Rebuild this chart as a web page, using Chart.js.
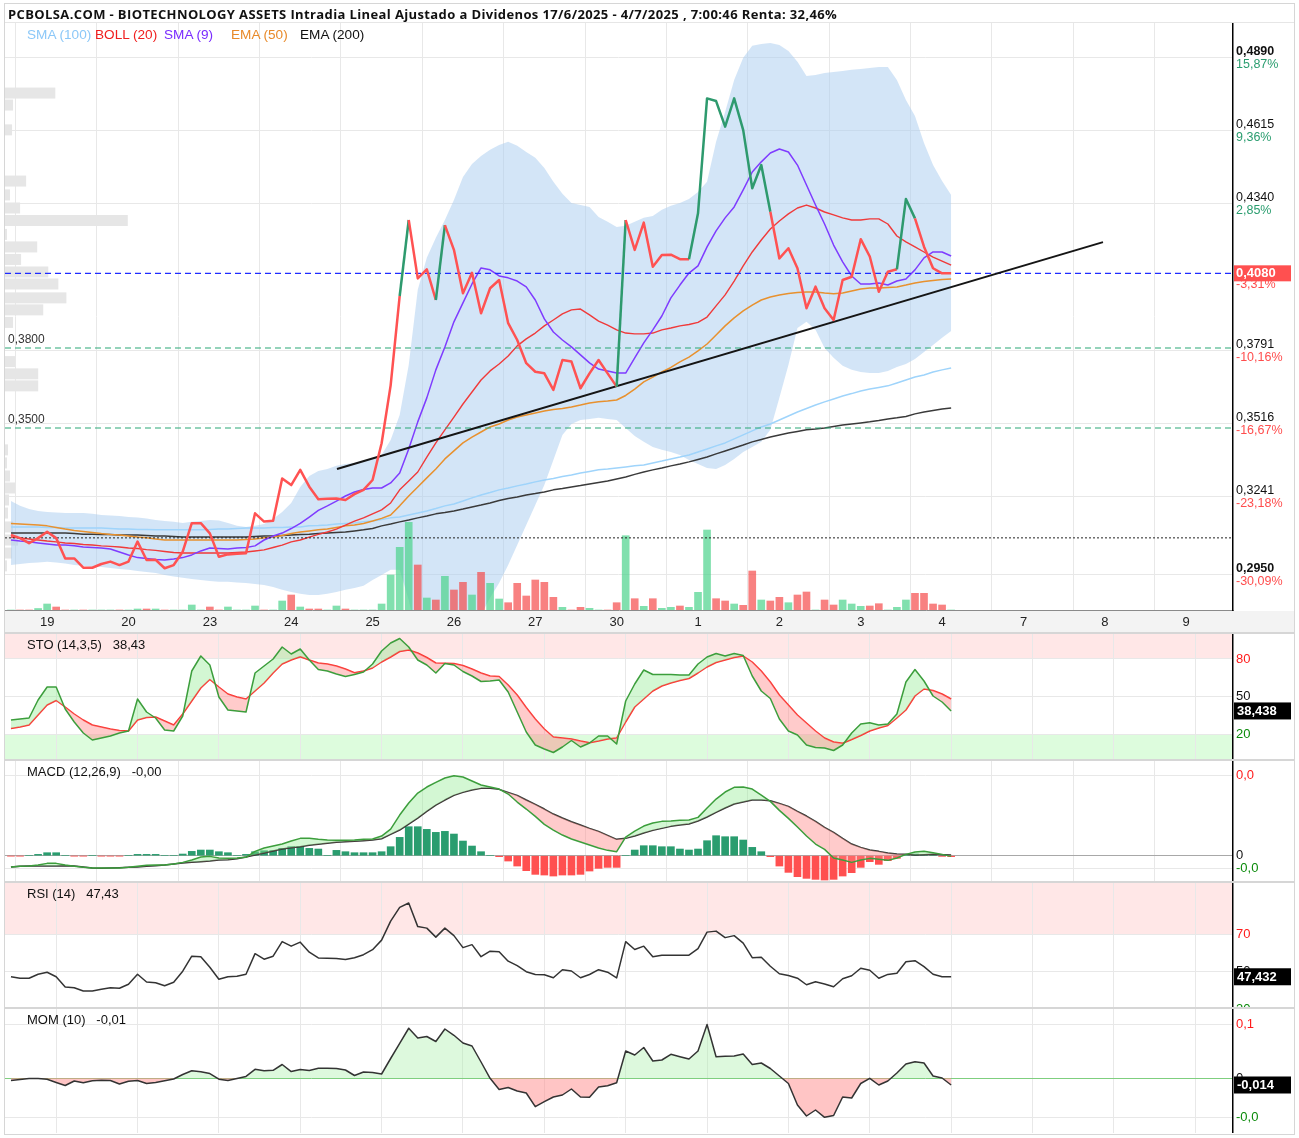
<!DOCTYPE html>
<html>
<head>
<meta charset="utf-8">
<script src="https://cdn.jsdelivr.net/npm/chart.js@4.4.1/dist/chart.umd.min.js"></script>
<style>
  html, body { margin: 0; padding: 0; background: #fff; }
  #wrap { position: relative; width: 1299px; height: 1138px; overflow: hidden; }
  canvas { position: absolute; left: 0; }
  .title { position: absolute; left: 8px; top: 5px; font: bold 13px "Open Sans", "DejaVu Sans", sans-serif; letter-spacing: 0.38px; color: #111; white-space: nowrap; line-height: 18px; }
  .leg { position: absolute; top: 26px; font: 13.6px "Liberation Sans", Arial, sans-serif; white-space: nowrap; line-height: 17px; }
  .sep { position: absolute; left: 4px; width: 1291px; height: 2px; background: #d6d6d6; }
  .frame { position: absolute; left: 4px; top: 3px; width: 1291px; height: 1132px; border: 1px solid #d6d6d6; box-sizing: border-box; pointer-events: none; }
  .tline { position: absolute; left: 4px; top: 22px; width: 1291px; height: 1px; background: #e6e6e6; }
</style>
</head>
<body>
<div id="wrap">
  <canvas id="cMain" width="1299" height="632" style="top:0px"></canvas>
  <canvas id="cSto"  width="1299" height="125" style="top:634px"></canvas>
  <canvas id="cMacd" width="1299" height="120" style="top:761px"></canvas>
  <canvas id="cRsi"  width="1299" height="124" style="top:883px"></canvas>
  <canvas id="cMom"  width="1299" height="124" style="top:1009px"></canvas>

  <div class="tline"></div>
  <div class="title">PCBOLSA.COM - BIOTECHNOLOGY ASSETS Intradia Lineal Ajustado a Dividenos 17/6/2025 - 4/7/2025 , 7:00:46 Renta: 32,46%</div>
  <div class="leg" style="left:27px;color:#8cc8f8">SMA (100)</div>
  <div class="leg" style="left:95px;color:#f01e1e">BOLL (20)</div>
  <div class="leg" style="left:164px;color:#7a2cff">SMA (9)</div>
  <div class="leg" style="left:231px;color:#e88a2a">EMA (50)</div>
  <div class="leg" style="left:300px;color:#111">EMA (200)</div>

  <div class="sep" style="top:632px"></div>
  <div class="sep" style="top:759px"></div>
  <div class="sep" style="top:881px"></div>
  <div class="sep" style="top:1007px"></div>
  <div class="frame"></div>
</div>

<script>
// ---------- sessions on the time axis ----------
const dayLabels = ['19', '20', '23', '24', '25', '26', '27', '30', '1', '2', '3', '4', '7', '8', '9'];
const barsPerSession = 9;
const firstSessionBar = 5;
const sessionStart = dayLabels.map((_, k) => firstSessionBar + k * barsPerSession);

// ---------- price and overlays ----------
const price = [0.3099,0.3087,0.3068,0.3087,0.3111,0.3087,0.3011,0.3011,0.2976,0.2976,
  0.2990,0.2999,0.2986,0.2999,0.3074,0.3005,0.3006,0.2974,0.2986,0.3036,
  0.3143,0.3143,0.3105,0.3017,0.3026,0.3028,0.3030,0.3180,0.3149,0.3152,
  0.3311,0.3286,0.3343,0.3280,0.3233,0.3235,0.3236,0.3230,0.3252,0.3268,
  0.3305,0.3443,0.3660,0.3995,0.4280,0.4061,0.4095,0.3980,0.4261,0.4168,
  0.4005,0.4082,0.3930,0.4024,0.4055,0.3893,0.3830,0.3743,0.3711,0.3705,
  0.3643,0.3755,0.3749,0.3649,0.3705,0.3755,0.3705,0.3655,0.4280,0.4168,
  0.4270,0.4105,0.4149,0.4150,0.4133,0.4133,0.4305,0.4736,0.4726,0.4630,
  0.4736,0.4617,0.4399,0.4486,0.4311,0.4136,0.4174,0.4099,0.3949,0.4030,
  0.3949,0.3905,0.4055,0.4067,0.4208,0.4143,0.4011,0.4086,0.4095,0.4359,
  0.4286,0.4180,0.4099,0.4080,0.4080];

// bars where the trend signal is active (line drawn green)
const signalBars = [44, 48, 68, 76, 77, 78, 79, 80, 81, 82, 83, 84, 99, 100];

const sma100 = [0.3129,0.3129,0.3129,0.3129,0.3127,0.3127,0.3125,0.3125,0.3125,0.3125,
  0.3125,0.3123,0.3121,0.3121,0.3119,0.3119,0.3118,0.3118,0.3118,0.3118,
  0.3118,0.3118,0.3119,0.3121,0.3121,0.3123,0.3125,0.3125,0.3125,0.3127,
  0.3127,0.3129,0.3129,0.3133,0.3134,0.3136,0.3140,0.3142,0.3144,0.3148,
  0.3151,0.3157,0.3163,0.3166,0.3174,0.3181,0.3189,0.3198,0.3208,0.3215,
  0.3226,0.3238,0.3249,0.3258,0.3268,0.3275,0.3283,0.3290,0.3298,0.3305,
  0.3311,0.3318,0.3324,0.3331,0.3337,0.3343,0.3346,0.3350,0.3354,0.3358,
  0.3361,0.3369,0.3376,0.3384,0.3391,0.3399,0.3410,0.3421,0.3433,0.3444,
  0.3459,0.3474,0.3489,0.3504,0.3515,0.3530,0.3545,0.3560,0.3573,0.3586,
  0.3598,0.3609,0.3620,0.3629,0.3639,0.3646,0.3652,0.3658,0.3669,0.3680,
  0.3691,0.3699,0.3710,0.3718,0.3725];

const ema200 = [0.3106,0.3106,0.3106,0.3106,0.3106,0.3106,0.3106,0.3104,0.3102,0.3102,
  0.3101,0.3101,0.3099,0.3099,0.3099,0.3097,0.3095,0.3095,0.3093,0.3091,
  0.3091,0.3091,0.3091,0.3091,0.3091,0.3091,0.3091,0.3093,0.3095,0.3095,
  0.3097,0.3099,0.3101,0.3102,0.3104,0.3106,0.3108,0.3110,0.3114,0.3118,
  0.3123,0.3133,0.3140,0.3148,0.3155,0.3163,0.3170,0.3178,0.3183,0.3189,
  0.3196,0.3204,0.3211,0.3219,0.3228,0.3236,0.3241,0.3249,0.3254,0.3260,
  0.3268,0.3273,0.3279,0.3284,0.3290,0.3296,0.3301,0.3309,0.3316,0.3326,
  0.3335,0.3343,0.3350,0.3358,0.3365,0.3373,0.3382,0.3391,0.3403,0.3414,
  0.3425,0.3436,0.3448,0.3457,0.3466,0.3474,0.3481,0.3487,0.3493,0.3496,
  0.3500,0.3506,0.3511,0.3515,0.3519,0.3523,0.3528,0.3534,0.3538,0.3543,
  0.3553,0.3560,0.3566,0.3571,0.3575];

const ema50 = [0.3142,0.3140,0.3138,0.3136,0.3133,0.3127,0.3121,0.3116,0.3112,0.3108,
  0.3104,0.3101,0.3099,0.3095,0.3091,0.3088,0.3084,0.3080,0.3080,0.3080,
  0.3080,0.3080,0.3080,0.3080,0.3080,0.3080,0.3082,0.3084,0.3088,0.3091,
  0.3097,0.3104,0.3110,0.3114,0.3118,0.3121,0.3127,0.3133,0.3136,0.3142,
  0.3151,0.3161,0.3174,0.3208,0.3245,0.3279,0.3313,0.3346,0.3384,0.3414,
  0.3444,0.3466,0.3485,0.3504,0.3515,0.3530,0.3541,0.3549,0.3556,0.3564,
  0.3569,0.3573,0.3579,0.3586,0.3594,0.3598,0.3601,0.3605,0.3622,0.3646,
  0.3673,0.3691,0.3710,0.3727,0.3748,0.3766,0.3789,0.3815,0.3849,0.3883,
  0.3913,0.3939,0.3961,0.3980,0.3991,0.3999,0.4004,0.4008,0.4010,0.4010,
  0.4006,0.4003,0.4006,0.4014,0.4021,0.4025,0.4025,0.4027,0.4029,0.4036,
  0.4044,0.4049,0.4053,0.4057,0.4059];

const sma9 = [0.3080,0.3076,0.3073,0.3069,0.3065,0.3061,0.3061,0.3058,0.3054,0.3052,
  0.3050,0.3046,0.3035,0.3024,0.3014,0.3011,0.3007,0.3005,0.3009,0.3014,
  0.3024,0.3039,0.3050,0.3048,0.3046,0.3050,0.3052,0.3058,0.3080,0.3095,
  0.3106,0.3123,0.3142,0.3166,0.3191,0.3208,0.3226,0.3245,0.3260,0.3269,
  0.3275,0.3275,0.3294,0.3331,0.3421,0.3523,0.3613,0.3718,0.3804,0.3898,
  0.3969,0.4040,0.4100,0.4093,0.4070,0.4063,0.4051,0.4029,0.3980,0.3909,
  0.3860,0.3830,0.3804,0.3774,0.3744,0.3721,0.3714,0.3706,0.3706,0.3763,
  0.3819,0.3868,0.3920,0.3988,0.4036,0.4081,0.4108,0.4179,0.4239,0.4288,
  0.4329,0.4393,0.4460,0.4498,0.4531,0.4546,0.4535,0.4486,0.4411,0.4336,
  0.4265,0.4186,0.4123,0.4070,0.4040,0.4040,0.4044,0.4036,0.4051,0.4059,
  0.4093,0.4138,0.4160,0.4160,0.4145];

const bollMid = [0.3091,0.3088,0.3084,0.3080,0.3076,0.3073,0.3069,0.3067,0.3063,0.3061,
  0.3058,0.3056,0.3054,0.3050,0.3048,0.3044,0.3041,0.3037,0.3033,0.3031,
  0.3031,0.3031,0.3031,0.3031,0.3031,0.3033,0.3035,0.3039,0.3043,0.3052,
  0.3061,0.3073,0.3080,0.3091,0.3101,0.3110,0.3121,0.3136,0.3151,0.3163,
  0.3178,0.3193,0.3219,0.3268,0.3301,0.3335,0.3391,0.3444,0.3493,0.3541,
  0.3590,0.3635,0.3680,0.3714,0.3740,0.3770,0.3808,0.3834,0.3856,0.3883,
  0.3905,0.3928,0.3943,0.3946,0.3924,0.3901,0.3886,0.3868,0.3856,0.3853,
  0.3853,0.3856,0.3868,0.3875,0.3883,0.3888,0.3896,0.3916,0.3958,0.3999,
  0.4051,0.4108,0.4160,0.4205,0.4246,0.4276,0.4303,0.4325,0.4336,0.4325,
  0.4310,0.4299,0.4288,0.4280,0.4280,0.4284,0.4284,0.4265,0.4220,0.4198,
  0.4179,0.4160,0.4141,0.4126,0.4111];

const bollUp = [0.3226,0.3208,0.3196,0.3189,0.3185,0.3183,0.3181,0.3181,0.3181,0.3178,
  0.3174,0.3172,0.3170,0.3166,0.3164,0.3161,0.3155,0.3151,0.3148,0.3144,
  0.3148,0.3151,0.3155,0.3153,0.3144,0.3133,0.3129,0.3133,0.3140,0.3159,
  0.3185,0.3219,0.3279,0.3320,0.3339,0.3346,0.3358,0.3365,0.3369,0.3376,
  0.3384,0.3399,0.3455,0.3549,0.3736,0.4018,0.4138,0.4213,0.4280,0.4355,
  0.4441,0.4490,0.4520,0.4543,0.4561,0.4573,0.4558,0.4535,0.4513,0.4475,
  0.4423,0.4378,0.4344,0.4336,0.4329,0.4291,0.4273,0.4254,0.4258,0.4273,
  0.4288,0.4295,0.4318,0.4333,0.4344,0.4359,0.4385,0.4423,0.4573,0.4685,
  0.4805,0.4888,0.4933,0.4940,0.4944,0.4936,0.4914,0.4873,0.4820,0.4824,
  0.4831,0.4835,0.4839,0.4843,0.4846,0.4850,0.4854,0.4854,0.4805,0.4730,
  0.4670,0.4569,0.4486,0.4426,0.4374];

const bollLow = [0.2986,0.2990,0.2994,0.2996,0.2998,0.2996,0.2992,0.2986,0.2983,0.2979,
  0.2979,0.2975,0.2971,0.2968,0.2964,0.2960,0.2956,0.2949,0.2943,0.2938,
  0.2934,0.2930,0.2926,0.2923,0.2923,0.2921,0.2919,0.2915,0.2911,0.2904,
  0.2893,0.2885,0.2878,0.2874,0.2874,0.2878,0.2885,0.2893,0.2900,0.2908,
  0.2930,0.2949,0.2968,0.2968,0.2855,0.2705,0.2645,0.2630,0.2611,0.2630,
  0.2668,0.2724,0.2799,0.2863,0.2919,0.2986,0.3061,0.3136,0.3211,0.3286,
  0.3380,0.3474,0.3515,0.3530,0.3534,0.3538,0.3534,0.3530,0.3500,0.3470,
  0.3448,0.3429,0.3418,0.3410,0.3399,0.3380,0.3365,0.3350,0.3346,0.3361,
  0.3384,0.3410,0.3429,0.3448,0.3493,0.3613,0.3736,0.3875,0.3898,0.3868,
  0.3800,0.3763,0.3733,0.3718,0.3710,0.3706,0.3706,0.3714,0.3729,0.3740,
  0.3759,0.3785,0.3811,0.3838,0.3864];

// volume per bar (thousands of shares)
const volume = [0,0,0,15,60,30,0,0,0,0,
  0,0,0,0,10,10,10,0,0,0,
  50,0,30,0,30,0,0,40,0,0,
  90,150,30,10,10,0,40,10,0,0,
  0,60,350,627,877,450,120,100,337,200,
  277,150,377,267,110,73,267,140,300,277,
  127,27,0,27,17,0,0,73,743,113,
  37,113,17,27,40,27,177,800,113,90,
  60,47,390,100,90,127,73,150,180,0,
  100,50,100,60,37,40,63,0,27,100,
  167,167,60,50,0];

// volume at price (left profile)
const profilePrice = [0.4756,0.4711,0.4618,0.4426,0.4374,0.4325,0.4278,0.4226,0.4179,0.4132,
  0.4085,0.4040,0.3988,0.3943,0.3896,0.3749,0.3703,0.3658,0.3418,0.3369,
  0.3320,0.3275,0.3230,0.3181,0.3129,0.3080,0.3031,0.2983];
const profileVolume = [500,80,70,210,50,150,1220,20,320,160,
  430,530,610,380,80,100,330,330,30,20,
  50,100,40,30,80,130,70,20];
const profileStep = 0.0045;

// reference levels
const supportLevels = [0.3800, 0.3500];
const openRef = 0.3088;
const basePrice = 0.4220;
const trendStart = { bar: 36.06, value: 0.3346 };
const trendEnd = { bar: 120.8, value: 0.4197 };
const priceTicks = [0.48900, 0.461525, 0.43405, 0.37910, 0.351625, 0.32415, 0.29500];

// ---------- oscillators ----------
const stoK = [31.2,32.0,32.8,47.2,57.6,57.6,40.0,29.6,20.8,15.2,
  16.8,18.4,20.8,22.4,48.0,37.6,32.8,23.2,22.4,34.4,
  70.4,82.4,75.2,49.6,39.2,38.4,37.6,68.8,74.4,80.0,
  89.6,84.0,88.0,79.2,71.6,70.4,68.0,66.0,67.6,69.6,
  76.0,86.4,92.8,96.4,89.6,79.2,75.2,68.8,76.4,75.2,
  70.0,66.4,62.0,62.4,63.2,53.6,37.6,21.6,11.2,8.0,
  5.2,9.6,14.8,9.6,12.8,18.4,18.4,12.0,46.4,60.0,
  71.2,67.6,67.6,67.6,67.2,67.2,76.0,81.6,84.4,82.4,
  84.4,82.8,66.4,54.4,48.4,32.0,22.4,19.2,11.2,9.2,
  8.8,6.8,11.2,20.8,28.0,29.0,27.2,28.0,36.0,61.6,
  71.6,62.4,50.4,45.6,38.438];
const stoD = [24.4,25.6,27.2,35.2,43.2,46.8,41.6,36.0,31.2,27.2,
  25.6,24.0,22.8,22.4,31.2,33.2,33.6,30.4,27.2,36.0,
  46.4,56.8,63.6,57.6,52.0,49.6,48.0,54.4,60.8,68.8,
  76.0,79.2,81.8,79.2,76.8,76.0,74.4,72.0,69.0,70.4,
  72.8,77.6,81.6,86.0,87.2,84.8,81.2,76.8,76.6,76.4,
  74.8,72.0,68.8,66.4,66.0,59.2,51.2,41.2,32.0,24.0,
  17.6,16.8,16.0,14.4,13.0,14.4,16.0,16.8,29.6,41.6,
  48.0,54.4,58.4,60.8,62.8,64.4,68.8,73.6,77.2,79.2,
  81.2,82.4,77.6,70.4,61.6,51.2,43.2,35.2,28.8,22.4,
  16.8,13.6,12.6,15.6,18.8,22.4,24.8,26.8,32.8,39.2,
  50.4,56.0,54.8,52.0,48.0];

const macd = [-0.0034,-0.0032,-0.0031,-0.0028,-0.0023,-0.0023,-0.0028,-0.0032,-0.0035,-0.0037,
  -0.0037,-0.0037,-0.0037,-0.0035,-0.0032,-0.0029,-0.0028,-0.0028,-0.0025,-0.0020,
  -0.0013,-0.0004,-0.0002,-0.0007,-0.0008,-0.0007,-0.0005,0.0013,0.0023,0.0029,
  0.0035,0.0044,0.0052,0.0052,0.0049,0.0047,0.0046,0.0046,0.0047,0.0049,
  0.0050,0.0059,0.0080,0.0122,0.0158,0.0188,0.0206,0.0220,0.0233,0.0240,
  0.0236,0.0224,0.0212,0.0206,0.0200,0.0185,0.0161,0.0140,0.0118,0.0094,
  0.0077,0.0062,0.0050,0.0041,0.0032,0.0023,0.0016,0.0012,0.0056,0.0074,
  0.0089,0.0098,0.0103,0.0104,0.0106,0.0107,0.0115,0.0143,0.0170,0.0191,
  0.0205,0.0206,0.0200,0.0182,0.0163,0.0136,0.0112,0.0086,0.0059,0.0035,
  0.0019,-0.0007,-0.0013,-0.0020,-0.0013,-0.0008,-0.0011,-0.0014,-0.0007,0.0004,
  0.0011,0.0013,0.0009,0.0004,-0.0002];
const macdSignal = [-0.0034,-0.0032,-0.0031,-0.0031,-0.0031,-0.0031,-0.0030,-0.0031,-0.0034,-0.0037,
  -0.0038,-0.0037,-0.0036,-0.0035,-0.0034,-0.0032,-0.0030,-0.0028,-0.0025,-0.0022,
  -0.0020,-0.0018,-0.0016,-0.0013,-0.0012,-0.0009,-0.0004,0.0002,0.0008,0.0014,
  0.0020,0.0024,0.0027,0.0031,0.0034,0.0037,0.0040,0.0042,0.0043,0.0045,
  0.0047,0.0051,0.0064,0.0077,0.0095,0.0113,0.0133,0.0152,0.0167,0.0181,
  0.0190,0.0197,0.0202,0.0202,0.0199,0.0190,0.0181,0.0167,0.0154,0.0140,
  0.0125,0.0113,0.0102,0.0092,0.0082,0.0073,0.0061,0.0049,0.0052,0.0059,
  0.0068,0.0076,0.0082,0.0088,0.0092,0.0095,0.0104,0.0116,0.0130,0.0143,
  0.0155,0.0161,0.0167,0.0167,0.0165,0.0157,0.0148,0.0133,0.0119,0.0103,
  0.0085,0.0070,0.0052,0.0035,0.0025,0.0017,0.0013,0.0008,0.0005,0.0004,
  0.0002,0.0003,0.0004,0.0003,0.0002];
const macdHist = [-0.0001,-0.0001,0,0.0004,0.0009,0.0009,0,-0.0001,-0.0001,0,
  -0.0001,-0.0001,-0.0001,0,0.0004,0.0004,0.0004,0,0,0.0005,
  0.0013,0.0017,0.0017,0.0012,0.0009,0,0.0004,0.0012,0.0015,0.0015,
  0.0022,0.0027,0.0027,0.0022,0.0020,0,0.0016,0.0012,0.0009,0.0009,
  0.0009,0.0012,0.0027,0.0055,0.0087,0.0087,0.0079,0.0070,0.0073,0.0065,
  0.0044,0.0029,0.0012,0,-0.0003,-0.0016,-0.0031,-0.0045,-0.0056,-0.0058,
  -0.0061,-0.0058,-0.0058,-0.0056,-0.0046,-0.0038,-0.0035,-0.0035,0,0.0017,
  0.0030,0.0030,0.0027,0.0027,0.0020,0.0017,0.0020,0.0045,0.0060,0.0057,
  0.0057,0.0047,0.0025,0.0012,-0.0003,-0.0031,-0.0050,-0.0063,-0.0068,-0.0071,
  -0.0073,-0.0071,-0.0061,-0.0051,-0.0035,-0.0018,-0.0026,-0.0015,-0.0008,0.0003,
  0.0005,0.0003,0.0002,-0.0002,-0.0003];

const rsi = [47.45,46.66,46.66,48.78,49.84,47.45,42.04,41.62,39.92,39.92,
  40.82,41.62,41.35,43.47,48.78,44.69,44.27,42.68,44.54,50.37,
  58.33,58.06,52.49,46.13,47.45,47.72,48.78,59.66,56.74,58.33,
  66.02,63.63,65.76,60.45,57.43,57.27,57.11,56.58,57.53,59.12,
  61.78,66.82,76.90,84.16,86.45,73.98,73.18,68.41,73.18,69.20,
  62.84,64.43,58.06,60.98,60.72,55.68,53.29,50.11,48.62,48.51,
  46.92,51.17,50.48,46.92,48.62,51.17,49.84,46.82,66.02,61.88,
  63.63,58.06,58.86,58.86,58.86,58.86,62.31,71.06,71.59,68.14,
  69.20,65.23,57.53,57.80,53.02,49.05,48.14,46.66,43.21,44.80,
  43.63,42.15,46.39,47.98,51.96,50.90,46.66,48.67,49.31,55.41,
  55.94,52.76,48.78,47.40,47.432];

const mom = [-0.0050,-0.0030,-0.0010,-0.0010,-0.0026,-0.0090,-0.0150,-0.0060,-0.0094,-0.0054,
  -0.0046,-0.0050,-0.0120,-0.0066,-0.0050,-0.0110,-0.0090,-0.0056,-0.0020,0.0070,
  0.0144,0.0124,0.0088,-0.0024,-0.0048,-0.0010,0.0032,0.0174,0.0146,0.0154,
  0.0270,0.0129,0.0170,0.0148,0.0194,0.0194,0.0190,0.0160,0.0050,0.0120,
  0.0110,0.0080,0.0390,0.0694,0.0995,0.0800,0.0830,0.0730,0.0980,0.0854,
  0.0700,0.0640,0.0320,-0.0006,-0.0230,-0.0190,-0.0260,-0.0300,-0.0573,-0.0474,
  -0.0380,-0.0340,-0.0220,-0.0380,-0.0386,-0.0180,-0.0154,-0.0094,0.0540,0.0460,
  0.0610,0.0340,0.0360,0.0474,0.0426,0.0380,0.0540,0.1070,0.0426,0.0435,
  0.0440,0.0480,0.0270,0.0300,0.0190,0.0040,-0.0110,-0.0540,-0.0760,-0.0640,
  -0.0786,-0.0750,-0.0380,-0.0400,-0.0110,-0.0006,-0.0140,-0.0060,0.0100,0.0280,
  0.0324,0.0300,0.0040,0.0000,-0.0140];

// ---------- helpers ----------
const FONT = '"Liberation Sans", Arial, sans-serif';
const XMIN = -0.66, XMAX = 135.18;
const pts = arr => arr.map((v, i) => ({ x: i, y: v }));
// numbers are cut (not rounded) to the shown decimals, with a comma separator
const cut = (v, d) => {
  const p = Math.pow(10, d);
  const r = Math.floor(Math.abs(v) * p + 1e-6) / p;
  return (v < 0 && r !== 0 ? '-' : (v < 0 ? '-' : '')) + r.toFixed(d).replace('.', ',');
};
const fmtAxis1 = v => v === 0 ? '0' : cut(v, 1);
const last = a => a[a.length - 1];

const RED = '#ff5252', GREEN_SIG = '#2e9a6e';
const UP_BAR = 'rgba(70,210,135,0.68)', DOWN_BAR = 'rgba(245,70,70,0.68)';

function xScale(showLabels) {
  return {
    type: 'linear', min: XMIN, max: XMAX, offset: false,
    afterBuildTicks: s => { s.ticks = sessionStart.map(v => ({ value: v })); },
    afterFit: s => { s.height = showLabels ? 22 : 0; },
    grid: { color: '#e8e8e8', drawTicks: false, lineWidth: 1 },
    border: { display: showLabels, color: '#8a8a8a', width: 1 },
    ticks: {
      display: showLabels, autoSkip: false, maxRotation: 0, minRotation: 0,
      labelOffset: -9, padding: 5, color: '#222',
      font: { size: 13, family: FONT },
      callback: (v, i) => dayLabels[i]
    }
  };
}

function yScale(min, max, tickVals, gridColor) {
  return {
    position: 'right', min, max,
    afterBuildTicks: s => { s.ticks = tickVals.map(v => ({ value: v })); },
    afterFit: s => { s.width = 0; },
    ticks: { display: false },
    grid: { color: gridColor || '#e8e8e8', drawTicks: false, lineWidth: 1 },
    border: { display: true, color: '#000', width: 1.5 }
  };
}

function lineDs(data, color, width, order, extra) {
  return Object.assign({
    type: 'line', data: pts(data), borderColor: color, borderWidth: width,
    pointRadius: 0, tension: 0, fill: false, order, borderJoinStyle: 'round'
  }, extra || {});
}

function hLine(value, color, dash, width, order) {
  return {
    type: 'line', data: [{ x: XMIN, y: value }, { x: XMAX, y: value }],
    borderColor: color, borderWidth: width, borderDash: dash,
    pointRadius: 0, fill: false, order
  };
}

const baseOptions = (padTop) => ({
  responsive: false, animation: false, devicePixelRatio: 1,
  events: [],
  layout: { padding: { left: 5, right: 66, top: padTop, bottom: 0 } },
  plugins: { legend: { display: false }, tooltip: { enabled: false } }
});

// ---------- main price panel ----------
const signalSet = new Set(signalBars);
const mainDatasets = [];
mainDatasets.push(lineDs(price, RED, 2.5, 1, {
  segment: { borderColor: c => signalSet.has(c.p1DataIndex) ? GREEN_SIG : RED }
}));
mainDatasets.push({
  type: 'line', data: [{ x: trendStart.bar, y: trendStart.value }, { x: trendEnd.bar, y: trendEnd.value }],
  borderColor: '#151515', borderWidth: 2, pointRadius: 0, fill: false, order: 2
});
mainDatasets.push(hLine(last(price), '#1f2cff', [6, 4], 1.2, 3));
supportLevels.forEach(v => mainDatasets.push(hLine(v, '#2aa877', [6, 4], 1.2, 3)));
mainDatasets.push(hLine(openRef, '#222', [2, 2], 1, 3));
mainDatasets.push(lineDs(sma9, '#7f3cff', 1.5, 4));
mainDatasets.push(lineDs(bollMid, '#f03a3a', 1.4, 5));
mainDatasets.push(lineDs(ema50, '#e8912e', 1.5, 6));
mainDatasets.push(lineDs(ema200, '#3a3a3a', 1.5, 7));
mainDatasets.push(lineDs(sma100, '#9fd4fb', 1.5, 8));
mainDatasets.push({
  type: 'bar', yAxisID: 'yVol', order: 9, barThickness: 7,
  data: pts(volume),
  backgroundColor: volume.map((v, i) => (i === 0 || price[i] >= price[i - 1]) ? UP_BAR : DOWN_BAR)
});
const lowIndex = mainDatasets.length + 1;
mainDatasets.push(lineDs(bollUp, 'rgba(0,0,0,0)', 0, 10, {
  fill: { target: lowIndex }, backgroundColor: 'rgba(168,203,240,0.5)'
}));
mainDatasets.push(lineDs(bollLow, 'rgba(0,0,0,0)', 0, 11));

const mainDecor = {
  id: 'mainDecor',
  beforeDraw(chart) {
    const { ctx, chartArea: a } = chart;
    ctx.save();
    ctx.fillStyle = '#f3f3f3';
    ctx.fillRect(4, a.bottom + 1, 1291, chart.height - a.bottom - 1);
    ctx.restore();
  },
  beforeDatasetsDraw(chart) {
    const { ctx, chartArea: a, scales: { y } } = chart;
    const maxV = Math.max(...profileVolume);
    ctx.save();
    ctx.fillStyle = '#e6e6e6';
    profilePrice.forEach((p, k) => {
      const top = y.getPixelForValue(p + profileStep / 2);
      const bot = y.getPixelForValue(p - profileStep / 2);
      const w = profileVolume[k] / maxV * a.width * 0.1;
      ctx.fillRect(a.left, top + 0.5, w, bot - top - 1);
    });
    ctx.restore();
  },
  afterDraw(chart) {
    const { ctx, chartArea: a, scales: { y } } = chart;
    ctx.save();
    ctx.textBaseline = 'middle';
    ctx.textAlign = 'left';
    // support level captions
    ctx.font = '12px ' + FONT;
    ctx.fillStyle = '#333';
    supportLevels.forEach(v => ctx.fillText(cut(v, 4), a.left + 3, y.getPixelForValue(v) - 8));
    // right price scale with returns
    priceTicks.forEach((t, k) => {
      const py = y.getPixelForValue(t);
      const bold = k === 0 || k === priceTicks.length - 1;
      ctx.font = (bold ? 'bold ' : '') + '12.5px ' + FONT;
      ctx.fillStyle = '#111';
      ctx.fillText(cut(t, 4), a.right + 3, py - 6);
      const pct = (t / basePrice - 1) * 100;
      ctx.font = '12.5px ' + FONT;
      ctx.fillStyle = pct >= 0 ? '#2a9d6f' : '#ff4d4d';
      ctx.fillText(cut(pct, 2) + '%', a.right + 3, py + 7);
    });
    // current price tag
    const lp = last(price);
    const py = y.getPixelForValue(lp);
    ctx.font = '12.5px ' + FONT;
    ctx.fillStyle = '#ff4d4d';
    ctx.fillText(cut((lp / basePrice - 1) * 100, 2) + '%', a.right + 3, py + 11);
    ctx.fillStyle = '#ff5050';
    ctx.fillRect(a.right + 1, py - 8, 57, 16);
    ctx.fillStyle = '#fff';
    ctx.font = 'bold 13px ' + FONT;
    ctx.fillText(cut(lp, 4), a.right + 3, py + 0.5);
    ctx.restore();
  }
};

new Chart(document.getElementById('cMain'), {
  type: 'line',
  data: { datasets: mainDatasets },
  options: Object.assign(baseOptions(23), {
    scales: {
      x: xScale(true),
      y: yScale(0.28175, 0.50187, priceTicks),
      yVol: { display: false, min: 0, max: 5870 }
    }
  }),
  plugins: [mainDecor]
});

// ---------- indicator panels ----------
function panelDecor(cfg) {
  return {
    id: 'decor_' + cfg.name,
    beforeDraw(chart) {
      const { ctx, chartArea: a, scales: { y } } = chart;
      ctx.save();
      (cfg.bands || []).forEach(b => {
        const t = Math.max(y.getPixelForValue(b.to), a.top);
        const btm = Math.min(y.getPixelForValue(b.from), a.bottom);
        if (btm > t) { ctx.fillStyle = b.color; ctx.fillRect(a.left, t, a.width, btm - t); }
      });
      ctx.restore();
    },
    afterDraw(chart) {
      const { ctx, chartArea: a, scales: { y } } = chart;
      ctx.save();
      ctx.textBaseline = 'middle';
      ctx.textAlign = 'left';
      ctx.font = '13px ' + FONT;
      ctx.fillStyle = '#111';
      ctx.fillText(cfg.header, 27, 11);
      cfg.labels.forEach(l => {
        ctx.fillStyle = l.color;
        ctx.font = '13px ' + FONT;
        ctx.fillText(l.text, a.right + 3, y.getPixelForValue(l.v));
      });
      if (cfg.box) {
        const py = y.getPixelForValue(cfg.box.v);
        ctx.fillStyle = '#000';
        ctx.fillRect(a.right + 1, py - 8.5, 57, 17);
        ctx.fillStyle = '#fff';
        ctx.font = 'bold 13px ' + FONT;
        ctx.fillText(cfg.box.text, a.right + 4, py + 0.5);
      }
      ctx.restore();
    }
  };
}

function makePanel(id, datasets, yMin, yMax, tickVals, gridColor, decor) {
  new Chart(document.getElementById(id), {
    type: 'line',
    data: { datasets },
    options: Object.assign(baseOptions(0), {
      scales: { x: xScale(false), y: yScale(yMin, yMax, tickVals, gridColor) }
    }),
    plugins: [panelDecor(decor)]
  });
}

const FILL_UP = 'rgba(140,235,140,0.38)', FILL_DOWN = 'rgba(255,130,130,0.42)';

// Stochastic
makePanel('cSto', [
  lineDs(stoK, '#3c9e3c', 1.5, 1, { fill: { target: 1, above: FILL_UP, below: FILL_DOWN } }),
  lineDs(stoD, '#ff3030', 1.5, 2)
], 0, 100, [20, 50, 80], null, {
  name: 'sto',
  header: 'STO (14,3,5)   ' + cut(last(stoK), 2),
  bands: [{ from: 80, to: 100, color: '#ffe7e7' }, { from: 0, to: 20, color: '#ddfcdd' }],
  labels: [{ v: 80, text: '80', color: '#ff1a1a' }, { v: 50, text: '50', color: '#111' }, { v: 20, text: '20', color: '#0a8a0a' }],
  box: { v: last(stoK), text: cut(last(stoK), 3) }
});

// MACD
const macdMax = Math.max(...macd), macdMin = Math.min(...macd);
makePanel('cMacd', [
  lineDs(macd, '#3c9e3c', 1.5, 1, { fill: { target: 1, above: FILL_UP, below: FILL_DOWN } }),
  lineDs(macdSignal, '#333', 1.5, 2),
  { type: 'bar', data: pts(macdHist), order: 3, barThickness: 7,
    backgroundColor: macdHist.map(v => v >= 0 ? '#2a9d6f' : '#ff5050') }
], -0.00759, 0.02841, [macdMin, 0, macdMax],
  c => c.tick.value === 0 ? '#a8a8a8' : '#e8e8e8', {
  name: 'macd',
  header: 'MACD (12,26,9)   ' + cut(last(macd), 2),
  labels: [{ v: macdMax, text: fmtAxis1(macdMax), color: '#ff1a1a' }, { v: 0, text: '0', color: '#111' },
           { v: macdMin, text: fmtAxis1(macdMin), color: '#0a8a0a' }]
});

// RSI
makePanel('cRsi', [
  lineDs(rsi, '#333', 1.5, 1)
], 31.43, 97.06, [30, 50, 70], null, {
  name: 'rsi',
  header: 'RSI (14)   ' + cut(last(rsi), 2),
  bands: [{ from: 70, to: 100, color: '#ffe7e7' }, { from: 0, to: 30, color: '#ddfcdd' }],
  labels: [{ v: 70, text: '70', color: '#ff1a1a' }, { v: 50, text: '50', color: '#111' }, { v: 30, text: '30', color: '#0a8a0a' }],
  box: { v: last(rsi), text: cut(last(rsi), 3) }
});

// Momentum
const momMax = Math.max(...mom), momMin = Math.min(...mom);
makePanel('cMom', [
  lineDs(mom, '#333', 1.5, 1, { fill: { value: 0, above: 'rgba(170,240,170,0.4)', below: 'rgba(255,140,140,0.5)' } })
], -0.11, 0.138, [momMin, 0, momMax],
  c => c.tick.value === 0 ? '#7fcf7f' : '#e8e8e8', {
  name: 'mom',
  header: 'MOM (10)   ' + cut(last(mom), 2),
  labels: [{ v: momMax, text: fmtAxis1(momMax), color: '#ff1a1a' }, { v: 0, text: '0', color: '#111' },
           { v: momMin, text: fmtAxis1(momMin), color: '#0a8a0a' }],
  box: { v: last(mom), text: cut(last(mom), 3) }
});
</script>
</body>
</html>
